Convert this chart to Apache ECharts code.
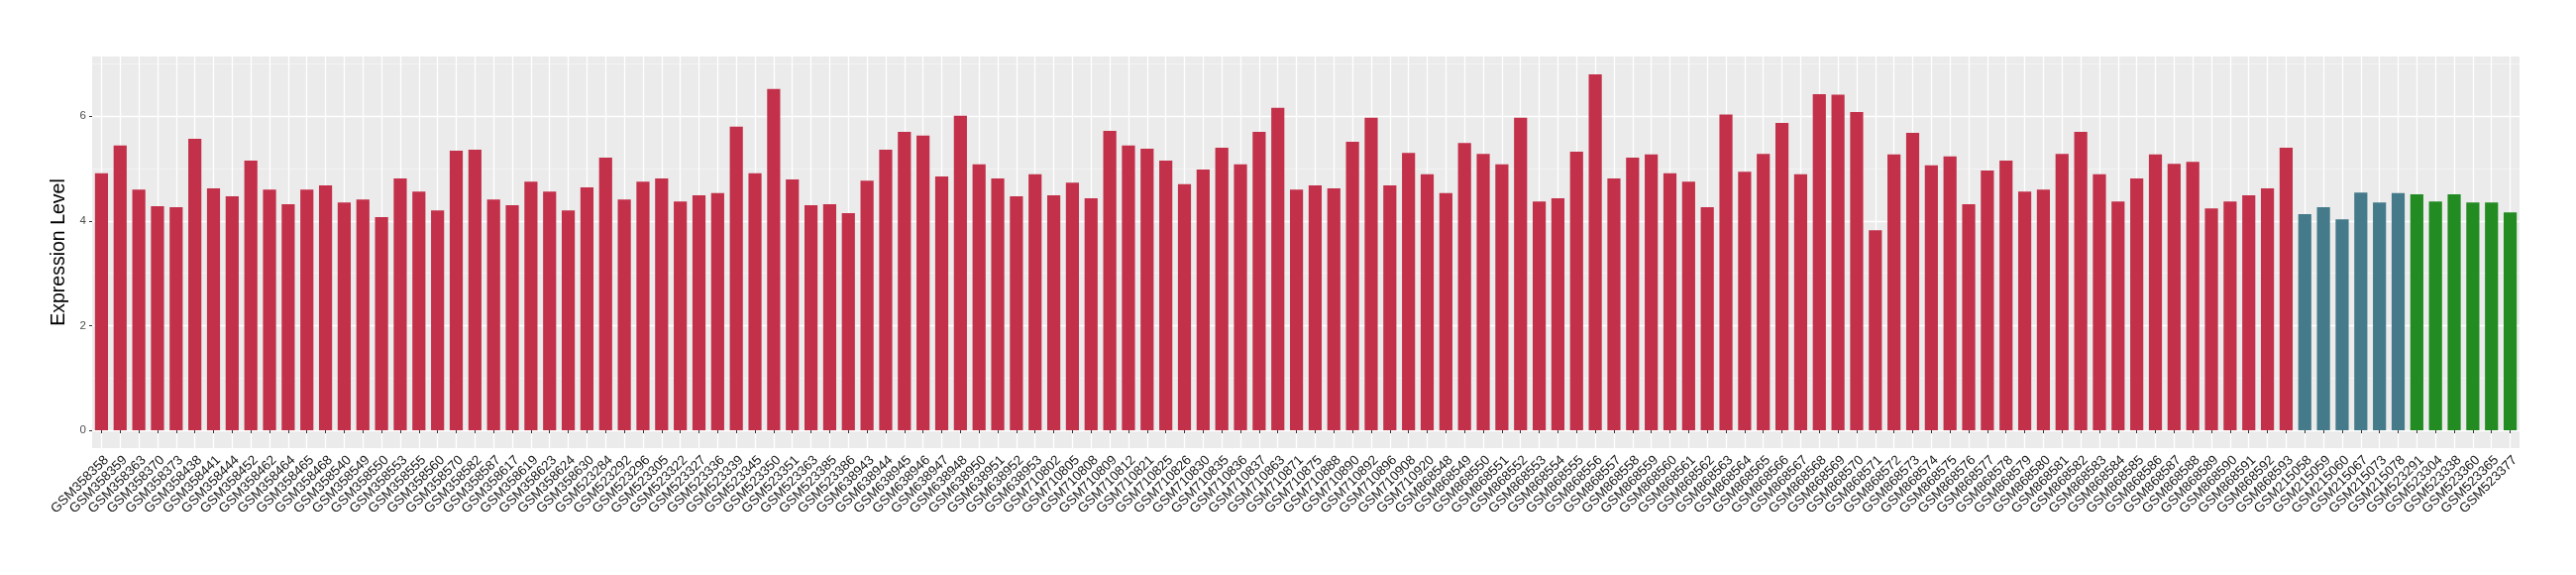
<!DOCTYPE html>
<html>
<head>
<meta charset="utf-8">
<script src="https://cdn.jsdelivr.net/npm/echarts@6/dist/echarts.min.js"></script>
<style>
html,body{margin:0;padding:0;background:#fff;}
#chart{width:2600px;height:580px;}
</style>
</head>
<body>
<div id="chart"></div>
<script>
// ---- data ----
const redSamples = [
  "GSM358358","GSM358359","GSM358363","GSM358370","GSM358373","GSM358438","GSM358441","GSM358444","GSM358452","GSM358462",
  "GSM358464","GSM358465","GSM358468","GSM358540","GSM358549","GSM358550","GSM358553","GSM358555","GSM358560","GSM358570",
  "GSM358582","GSM358587","GSM358617","GSM358619","GSM358623","GSM358624","GSM358630","GSM523284","GSM523292","GSM523296",
  "GSM523305","GSM523322","GSM523327","GSM523336","GSM523339","GSM523345","GSM523350","GSM523351","GSM523363","GSM523385",
  "GSM523386","GSM638943","GSM638944","GSM638945","GSM638946","GSM638947","GSM638948","GSM638950","GSM638951","GSM638952",
  "GSM638953","GSM710802","GSM710805","GSM710808","GSM710809","GSM710812","GSM710821","GSM710825","GSM710826","GSM710830",
  "GSM710835","GSM710836","GSM710837","GSM710863","GSM710871","GSM710875","GSM710888","GSM710890","GSM710892","GSM710896",
  "GSM710908","GSM710920","GSM868548","GSM868549","GSM868550","GSM868551","GSM868552","GSM868553","GSM868554","GSM868555",
  "GSM868556","GSM868557","GSM868558","GSM868559","GSM868560","GSM868561","GSM868562","GSM868563","GSM868564","GSM868565",
  "GSM868566","GSM868567","GSM868568","GSM868569","GSM868570","GSM868571","GSM868572","GSM868573","GSM868574","GSM868575",
  "GSM868576","GSM868577","GSM868578","GSM868579","GSM868580","GSM868581","GSM868582","GSM868583","GSM868584","GSM868585",
  "GSM868586","GSM868587","GSM868588","GSM868589","GSM868590","GSM868591","GSM868592","GSM868593"
];
const redValues = [
  4.91,5.44,4.60,4.28,4.26,5.57,4.62,4.47,5.15,4.60,
  4.32,4.60,4.68,4.35,4.41,4.07,4.81,4.56,4.20,5.34,
  5.36,4.41,4.30,4.75,4.56,4.20,4.64,5.21,4.41,4.75,
  4.81,4.37,4.49,4.53,5.80,4.91,6.52,4.79,4.30,4.32,
  4.15,4.77,5.36,5.70,5.63,4.85,6.01,5.08,4.81,4.47,
  4.89,4.49,4.73,4.43,5.72,5.44,5.38,5.15,4.70,4.98,
  5.40,5.08,5.70,6.16,4.60,4.68,4.62,5.51,5.97,4.68,
  5.30,4.89,4.53,5.49,5.28,5.08,5.97,4.37,4.43,5.32,
  6.80,4.81,5.21,5.27,4.91,4.75,4.26,6.03,4.94,5.28,
  5.87,4.89,6.42,6.41,6.08,3.82,5.27,5.68,5.06,5.23,
  4.32,4.96,5.15,4.56,4.60,5.28,5.70,4.89,4.37,4.81,
  5.27,5.09,5.13,4.24,4.37,4.49,4.62,5.40
];
const blueSamples = ["GSM215058","GSM215059","GSM215060","GSM215067","GSM215073","GSM215078"];
const blueValues  = [4.13,4.26,4.03,4.54,4.35,4.53];
const greenSamples = ["GSM523291","GSM523304","GSM523338","GSM523360","GSM523365","GSM523377"];
const greenValues  = [4.51,4.37,4.51,4.35,4.35,4.16];

const yMajorTicks = [0, 2, 4, 6];
const yMinorTicks = [1, 3, 5, 7];
const yTitle = "Expression Level";

const groupColors = {red: "#C3304A", blue: "#447A8A", green: "#228B22"};

// ---- build ----
const categories = [].concat(redSamples, blueSamples, greenSamples);
const barData = [].concat(
  redValues.map(v => ({value: v, itemStyle: {color: groupColors.red}})),
  blueValues.map(v => ({value: v, itemStyle: {color: groupColors.blue}})),
  greenValues.map(v => ({value: v, itemStyle: {color: groupColors.green}}))
);
const allValues = [].concat(redValues, blueValues, greenValues);
const dataMax = Math.max.apply(null, allValues);
const yMin = -0.05 * dataMax;
const yMax = 1.05 * dataMax;

const FONT = "Liberation Sans, Arial, Helvetica, sans-serif";

const chart = echarts.init(document.getElementById('chart'), null, {renderer: 'canvas'});
chart.setOption({
  animation: false,
  backgroundColor: '#FFFFFF',
  textStyle: {fontFamily: FONT},
  grid: {
    left: 93, right: 57, top: 57, bottom: 128,
    show: true, backgroundColor: '#EBEBEB', borderWidth: 0,
    containLabel: false
  },
  xAxis: {
    type: 'category',
    data: categories,
    boundaryGap: true,
    axisLine: {show: false},
    axisTick: {show: true, alignWithLabel: true, interval: 0, length: 3, lineStyle: {color: '#333333', width: 1}},
    axisLabel: {
      interval: 0, rotate: 45, fontSize: 13.5, color: '#1A1A1A', fontFamily: FONT,
      margin: 5, align: 'right', verticalAlign: 'top'
    },
    splitLine: {show: true, interval: 0, alignWithLabel: true, lineStyle: {color: '#FFFFFF', width: 1.3}}
  },
  yAxis: [
    {
      type: 'value',
      min: yMin, max: yMax,
      name: yTitle,
      nameLocation: 'middle',
      nameGap: 20,
      nameRotate: 90,
      nameTextStyle: {fontSize: 19.5, color: '#000000', fontFamily: FONT},
      axisLine: {show: false},
      axisTick: {show: true, length: 3, customValues: yMajorTicks, lineStyle: {color: '#333333', width: 1}},
      axisLabel: {show: true, customValues: yMajorTicks, fontSize: 11.5, color: '#4D4D4D', margin: 6, fontFamily: FONT},
      splitLine: {show: true, lineStyle: {color: '#FFFFFF', width: 1.3}}
    },
    {
      type: 'value',
      min: yMin, max: yMax,
      position: 'left',
      axisLine: {show: false},
      axisTick: {show: false, customValues: yMinorTicks},
      axisLabel: {show: false, customValues: yMinorTicks},
      splitLine: {show: true, lineStyle: {color: '#F5F5F5', width: 0.8}}
    }
  ],
  series: [{
    type: 'bar',
    yAxisIndex: 0,
    data: barData,
    barWidth: '70%'
  }]
});
</script>
</body>
</html>
